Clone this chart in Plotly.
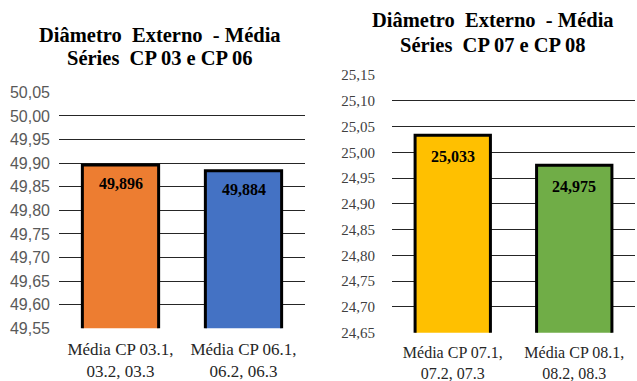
import plotly.graph_objects as go

# Series CP 03 / CP 06
left_categories = ["Média CP 03.1,<br>03.2, 03.3", "Média CP 06.1,<br>06.2, 06.3"]
left_values = [49.896, 49.884]
left_colors = ["#ED7D31", "#4472C4"]
left_ticks = [49.55, 49.60, 49.65, 49.70, 49.75, 49.80, 49.85, 49.90, 49.95, 50.00, 50.05]
left_title = ["Diâmetro  Externo  - Média", "Séries  CP 03 e CP 06"]

# Series CP 07 / CP 08
right_categories = ["Média CP 07.1,<br>07.2, 07.3", "Média CP 08.1,<br>08.2, 08.3"]
right_values = [25.033, 24.975]
right_colors = ["#FFC000", "#70AD47"]
right_ticks = [24.65, 24.70, 24.75, 24.80, 24.85, 24.90, 24.95, 25.00, 25.05, 25.10, 25.15]
right_title = ["Diâmetro  Externo  - Média", "Séries  CP 07 e CP 08"]

W, H = 637, 381
SERIF = "Liberation Serif"
SANS = "Liberation Sans"

fig = go.Figure()
fig.add_trace(go.Bar(x=left_categories, y=left_values, xaxis="x", yaxis="y",
                     marker=dict(color=left_colors, line=dict(color="#000000", width=3)),
                     hoverinfo="skip", showlegend=False))
fig.add_trace(go.Bar(x=right_categories, y=right_values, xaxis="x2", yaxis="y2",
                     marker=dict(color=right_colors, line=dict(color="#000000", width=3)),
                     hoverinfo="skip", showlegend=False))


def fmt(v):
    return f"{v:.3f}".replace(".", ",")


annotations = []
for c, v in zip(left_categories, left_values):
    annotations.append(dict(x=c, y=v, xref="x", yref="y", text=f"<b>{fmt(v)}</b>",
                             showarrow=False, yshift=-19, yanchor="middle",
                             font=dict(family=SERIF, size=16, color="#000000")))
for c, v in zip(right_categories, right_values):
    annotations.append(dict(x=c, y=v, xref="x2", yref="y2", text=f"<b>{fmt(v)}</b>",
                             showarrow=False, yshift=-21, yanchor="middle",
                             font=dict(family=SERIF, size=16, color="#000000")))

# chart titles, one annotation per line
for line, ypx in zip(left_title, [35, 58]):
    annotations.append(dict(x=160 / W, y=1 - ypx / H, xref="paper", yref="paper",
                            text=f"<b>{line}</b>", showarrow=False,
                            xanchor="center", yanchor="middle",
                            font=dict(family=SERIF, size=20.5, color="#000000")))
for line, ypx in zip(right_title, [20, 45]):
    annotations.append(dict(x=493 / W, y=1 - ypx / H, xref="paper", yref="paper",
                            text=f"<b>{line}</b>", showarrow=False,
                            xanchor="center", yanchor="middle",
                            font=dict(family=SERIF, size=20.5, color="#000000")))

grid = "#262626"
fig.update_layout(
    width=W, height=H,
    margin=dict(l=0, r=0, t=0, b=0, autoexpand=False),
    paper_bgcolor="#FFFFFF", plot_bgcolor="#FFFFFF",
    separators=",.",
    bargap=0.38,
    annotations=annotations,
    xaxis=dict(domain=[59 / W, 305 / W], anchor="y", type="category", range=[-0.5, 1.5],
               automargin=False, showgrid=False, showline=False, ticks="", ticklabelstandoff=9,
               tickfont=dict(family=SERIF, size=17, color="#262626")),
    yaxis=dict(domain=[1 - 328.3 / H, 1 - 92.3 / H], anchor="x", range=[49.55, 50.05],
               automargin=False, tickvals=left_ticks, tickformat=".2f",
               showgrid=True, gridcolor=grid, gridwidth=1,
               zeroline=False, showline=False, ticks="", ticklabelstandoff=8,
               tickfont=dict(family=SANS, size=16, color="#595959")),
    xaxis2=dict(domain=[392 / W, 635 / W], anchor="y2", type="category", range=[-0.5, 1.5],
                automargin=False, showgrid=False, showline=False, ticks="", ticklabelstandoff=8,
                tickfont=dict(family=SERIF, size=16, color="#262626")),
    yaxis2=dict(domain=[1 - 332.7 / H, 1 - 75 / H], anchor="x2", range=[24.65, 25.15],
                automargin=False, tickvals=right_ticks, tickformat=".2f",
                showgrid=True, gridcolor=grid, gridwidth=1,
                zeroline=False, showline=False, ticks="", ticklabelstandoff=16,
                tickfont=dict(family=SERIF, size=15, color="#404040")),
)

fig.write_html("out.html")
